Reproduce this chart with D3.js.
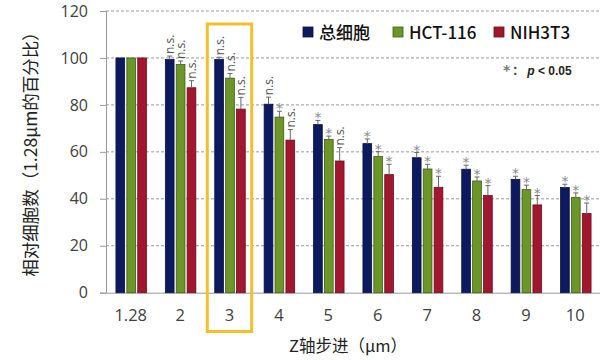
<!DOCTYPE html>
<html><head><meta charset="utf-8">
<script src="https://cdn.jsdelivr.net/npm/d3@7"></script>
<style>body{margin:0;background:#fff}svg{display:block}text{font-family:"Noto Sans CJK SC","Noto Sans",sans-serif}</style>
</head><body><svg id="c" width="600" height="360"></svg>
<script>
const categories = ["1.28","2","3","4","5","6","7","8","9","10"];
const seriesNames = ["总细胞","HCT-116","NIH3T3"];
const totalCells = [100,99.3,99.3,80.3,71.6,63.5,57.5,52.6,48.3,44.8];
const hct116 = [100,97.2,91.4,74.8,65.3,58,52.7,47.6,43.9,40.5];
const nih3t3 = [100,87.3,78.2,65,56.1,50.3,44.9,41.4,37.4,33.7];
const totalErr = [0,1.5,1,3,1.8,2,2.2,1.7,1.3,1.4];
const hctErr = [0,1.5,2,2.5,1.4,2.1,2,1.7,1.9,2];
const nihErr = [0,3,5,4.5,5.7,4.4,4.7,4.2,4,4.5];
const totalSig = ["","n.s.","n.s.","n.s.","*","*","*","*","*","*"];
const hctSig = ["","n.s.","n.s.","*","*","*","*","*","*","*"];
const nihSig = ["","n.s.","n.s.","n.s.","n.s.","*","*","*","*","*"];
const yTicks = [0,20,40,60,80,100,120];
const highlight = "3";

const colors = ["#0d1a5f","#6c9628","#a3162f"];
const strokes = ["#081040","#3f5c16","#6a0c1d"];
const values = [totalCells,hct116,nih3t3];
const errs = [totalErr,hctErr,nihErr];
const sigs = [totalSig,hctSig,nihSig];

const svg = d3.select("#c");
const m = {l:106,r:600,t:11,b:292.7};
const x = d3.scaleBand().domain(categories).range([m.l,m.r]).paddingInner(0).paddingOuter(0);
const GW = 30.5;
const xs = d3.scaleBand().domain(d3.range(3)).range([0,GW]).paddingInner(0.2);
const y = d3.scaleLinear().domain([0,120]).range([m.b,m.t]);
const gOff = (x.bandwidth()-GW)/2 + 0.5;

// gridlines
svg.append("g").selectAll("line").data(yTicks.filter(d=>d>0)).join("line")
  .attr("x1",m.l).attr("x2",m.r).attr("y1",d=>y(d)).attr("y2",d=>y(d))
  .attr("stroke","#999").attr("stroke-width",1).attr("stroke-dasharray","3,2");

// y axis
const ya = svg.append("g").attr("transform",`translate(${m.l},0)`)
  .call(d3.axisLeft(y).tickValues(yTicks).tickSize(6).tickPadding(12));
ya.select(".domain").attr("stroke","#999");
ya.selectAll(".tick line").attr("stroke","#999");
ya.selectAll(".tick text").attr("font-size",16).attr("fill","#404040")
  .style("font-family","'Open Sans','Noto Sans',sans-serif");

// x axis
const xa = svg.append("g").attr("transform",`translate(0,${m.b})`)
  .call(d3.axisBottom(x).tickSize(0).tickPadding(17));
xa.select(".domain").attr("stroke","#999");
xa.selectAll(".tick text").attr("font-size",16.5).attr("fill","#404040")
  .style("font-family","'Open Sans','Noto Sans',sans-serif");

// bars
values.forEach((vals,si)=>{
  const g = svg.append("g");
  categories.forEach((c,i)=>{
    const bx = x(c)+gOff+xs(si);
    const bw = xs.bandwidth();
    g.append("rect").attr("x",bx).attr("y",y(vals[i])).attr("width",bw)
      .attr("height",y(0)-y(vals[i])).attr("fill",colors[si])
      .attr("stroke",strokes[si]).attr("stroke-width",0.8);
    const e = errs[si][i];
    if(e>0){
      const cx = bx+bw/2;
      g.append("line").attr("x1",cx).attr("x2",cx).attr("y1",y(vals[i])).attr("y2",y(vals[i]+e))
        .attr("stroke","#666").attr("stroke-width",1);
      g.append("line").attr("x1",cx-2.5).attr("x2",cx+2.5).attr("y1",y(vals[i]+e)).attr("y2",y(vals[i]+e))
        .attr("stroke","#666").attr("stroke-width",1);
    }
    const s = sigs[si][i];
    const top = y(vals[i]+e);
    if(s==="*"){
      g.append("text").attr("x",bx+bw/2).attr("y",top+2).attr("text-anchor","middle")
        .attr("font-size",14).attr("fill","#8a8a8a").style("font-family","'DejaVu Sans',sans-serif").text("*");
    } else if(s==="n.s."){
      g.append("text").attr("transform",`translate(${bx+bw/2+4.5},${top-2}) rotate(-90)`)
        .attr("font-size",12).attr("fill","#555").style("font-family","'Open Sans',sans-serif").text("n.s.");
    }
  });
});

// highlight box
svg.append("rect").attr("x",x(highlight)+2.5).attr("y",24).attr("width",x.bandwidth()-5)
  .attr("height",331.5-24).attr("fill","none").attr("stroke","#f3c02c").attr("stroke-width",3);

// legend
const lx = [303,393,494];
seriesNames.forEach((n,i)=>{
  svg.append("rect").attr("x",lx[i]).attr("y",27).attr("width",10).attr("height",10)
    .attr("fill",colors[i]).attr("stroke",strokes[i]).attr("stroke-width",0.8);
  svg.append("text").attr("x",lx[i]+16).attr("y",38.5).attr("font-size",17).attr("fill","#111")
    .attr("font-weight",500).text(n);
});

// p-value note
const note = svg.append("text").attr("x",503).attr("y",75).attr("font-size",12).attr("font-weight","bold").attr("fill","#222");
note.append("tspan").attr("fill","#777").attr("font-size",14).style("font-family","'DejaVu Sans',sans-serif").text("*");
note.append("tspan").attr("dx",2).attr("fill","#444").text("：");
note.append("tspan").attr("dx",3).attr("font-style","italic").style("font-family","'Liberation Sans',Arial,sans-serif").text("p");
note.append("tspan").style("font-family","'Liberation Sans',Arial,sans-serif").text(" < 0.05");

// axis titles
svg.append("text").attr("x",348).attr("y",352).attr("text-anchor","middle").attr("font-size",16.5)
  .attr("fill","#222").text("Z轴步进（μm）");
svg.append("text").attr("transform","translate(37,150) rotate(-90)").attr("text-anchor","middle")
  .attr("font-size",17.5).attr("fill","#222").text("相对细胞数（1.28μm的百分比）");
</script></body></html>
